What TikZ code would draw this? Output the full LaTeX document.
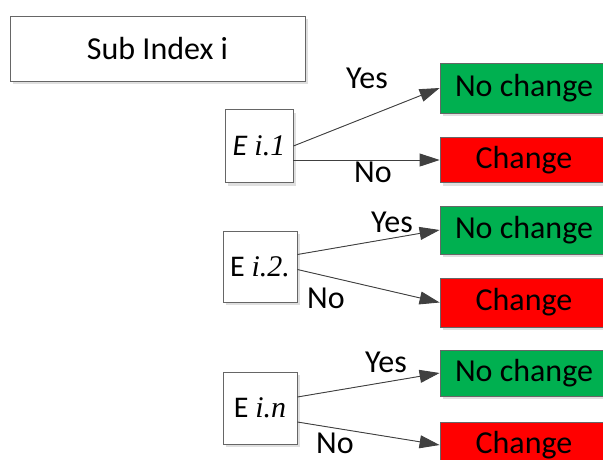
\documentclass[tikz,border=0pt]{standalone}
\usepackage{fontspec}
\setmainfont{Carlito}
\newfontfamily\serifit{Liberation Serif}
\usetikzlibrary{arrows.meta,shadows}
\definecolor{okgreen}{RGB}{0,176,80}
\definecolor{badred}{RGB}{255,0,0}
\definecolor{arrowgray}{RGB}{64,64,64}
\begin{document}
\begin{tikzpicture}[x=1pt,y=-1pt,
  box/.style={draw=gray!80!black,line width=0.8pt,inner sep=0pt,
    font=\fontsize{32}{36}\selectfont,
    drop shadow={shadow xshift=3pt,shadow yshift=-3pt,fill=gray!25,opacity=1}},
  whitebox/.style={box,fill=white},
  greenbox/.style={box,fill=okgreen,minimum width=168pt},
  redbox/.style={box,fill=badred,minimum width=168pt},
  lbl/.style={inner sep=0pt,font=\fontsize{32}{36}\selectfont},
  conn/.style={draw=arrowgray,line width=0.9pt,-{Triangle[length=20pt,width=13pt]},
    fill=arrowgray}
]
\clip (0,0) rectangle (603,459);
\fill[white] (0,0) rectangle (603,459);

\node[whitebox,minimum width=295pt,minimum height=65pt] (sub) at (157.5,48.5) {Sub Index i};

\node[whitebox,minimum width=68pt,minimum height=73pt,font=\fontsize{30}{34}\selectfont] (e1) at (259,146) {\textit{E} {\serifit\itshape i.1}};
\node[whitebox,minimum width=74pt,minimum height=71pt,font=\fontsize{30}{34}\selectfont] (e2) at (260,266.5) {E {\serifit\itshape i.2.}};
\node[whitebox,minimum width=74pt,minimum height=72pt,font=\fontsize{30}{34}\selectfont] (e3) at (260,408) {E {\serifit\itshape i.n}};

\node[greenbox,minimum height=50pt] (g1) at (524,88) {No change};
\node[redbox,minimum height=45pt] (r1) at (524,160) {Change};
\node[greenbox,minimum height=48pt] (g2) at (524,230) {No change};
\node[redbox,minimum height=49pt] (r2) at (524,302.5) {Change};
\node[greenbox,minimum height=46pt] (g3) at (524,373) {No change};
\node[redbox,minimum height=46pt] (r3) at (524,445) {Change};

\draw[conn] (e1.east) -- (g1.west);
\draw[conn] (e1.east |- r1.west) -- (r1.west);
\draw[conn] ([yshift=12pt]e2.east) -- (g2.west);
\draw[conn] ([yshift=-3pt]e2.east) -- (r2.west);
\draw[conn] ([yshift=11pt]e3.east) -- (g3.west);
\draw[conn] ([yshift=-14pt]e3.east) -- (r3.west);

\node[lbl] (y1) at (367,78) {Yes};
\node[lbl] (n1) at (373,172) {No};
\node[lbl] (y2) at (392,222) {Yes};
\node[lbl] (n2) at (326,298) {No};
\node[lbl] (y3) at (386,362) {Yes};
\node[lbl] (n3) at (335,443) {No};
\end{tikzpicture}
\end{document}
